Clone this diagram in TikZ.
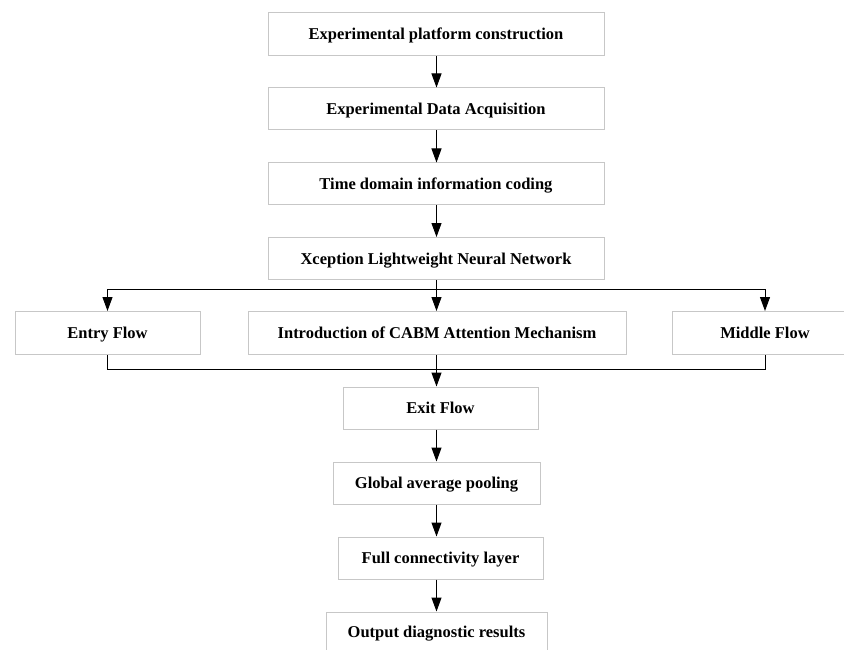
\documentclass[tikz,border=0pt]{standalone}
\usepackage{fontspec}
\setmainfont{Liberation Serif}
\usetikzlibrary{arrows.meta,calc}
\begin{document}
\begin{tikzpicture}[x=1pt,y=-1pt,
  box/.style={draw=black!22, line width=1pt, fill=white, inner sep=0pt,
    font=\fontsize{16.5}{18}\selectfont\bfseries, anchor=center,
    text height=15pt, text depth=4pt},
  arr/.style={draw=black, line width=1pt, -{Triangle[length=14pt,width=10pt]}},
  ln/.style={draw=black, line width=1pt}]
\useasboundingbox (0,0) rectangle (844,650);
\clip (0,0) rectangle (844,650);
\fill[white] (0,0) rectangle (844,650);
\coordinate (col) at (436.5,0);
\node[box, minimum width=336, minimum height=43] (b1) at (436,34.5) {Experimental platform construction};
\node[box, minimum width=336, minimum height=42] (b2) at (436,109) {Experimental Data Acquisition};
\node[box, minimum width=336, minimum height=42] (b3) at (436,184) {Time domain information coding};
\node[box, minimum width=336, minimum height=42] (b4) at (436,258.5) {Xception Lightweight Neural Network};
\node[box, minimum width=185, minimum height=43] (entry) at (107.5,333) {Entry Flow};
\node[box, minimum width=378, minimum height=43] (cabm) at (437,333) {Introduction of CABM Attention Mechanism};
\node[box, minimum width=186, minimum height=43] (middle) at (765,333) {Middle Flow};
\node[box, minimum width=195, minimum height=42] (exit) at (440.5,408) {Exit Flow};
\node[box, minimum width=207, minimum height=42] (gap) at (436.5,483) {Global average pooling};
\node[box, minimum width=205, minimum height=42] (fc) at (440.5,558) {Full connectivity layer};
\node[box, minimum width=221, minimum height=40] (out) at (436.5,632) {Output diagnostic results};
\coordinate (split) at (436.5,289);
\coordinate (merge) at (436.5,369.5);
\draw[arr] (b1.south -| col) -- (b2.north -| col);
\draw[arr] (b2.south -| col) -- (b3.north -| col);
\draw[arr] (b3.south -| col) -- (b4.north -| col);
\draw[ln] (b4.south -| col) -- (split);
\draw[ln] (split -| entry) -- (split -| middle);
\draw[arr] (split -| entry) -- (entry.north);
\draw[arr] (split) -- (cabm.north -| col);
\draw[arr] (split -| middle) -- (middle.north);
\draw[ln] (entry.south) -- (merge -| entry) -- (merge -| middle) -- (middle.south);
\draw[ln] (cabm.south -| col) -- (merge);
\draw[arr] (merge) -- (exit.north -| col);
\draw[arr] (exit.south -| col) -- (gap.north -| col);
\draw[arr] (gap.south -| col) -- (fc.north -| col);
\draw[arr] (fc.south -| col) -- (out.north -| col);
\end{tikzpicture}
\end{document}
